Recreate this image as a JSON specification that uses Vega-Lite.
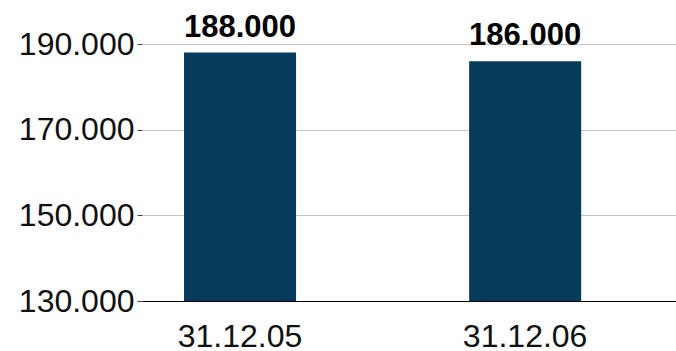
{
  "$schema": "https://vega.github.io/schema/vega-lite/v6.json",
  "autosize": {"type": "none"},
  "padding": {"left": 142, "top": 44, "right": 0, "bottom": 50},
  "width": 534,
  "height": 257,
  "background": "white",
  "config": {
    "locale": {"number": {"decimal": ",", "thousands": ".", "grouping": [3], "currency": ["", " €"]}},
    "view": {"stroke": null},
    "font": "Liberation Sans"
  },
  "data": {
    "values": [
      {"stichtag": "31.12.05", "wert": 188000},
      {"stichtag": "31.12.06", "wert": 186000}
    ]
  },
  "encoding": {
    "x": {
      "field": "stichtag",
      "type": "nominal",
      "sort": null,
      "scale": {"paddingInner": 0.607, "paddingOuter": 0.24, "align": 0.307},
      "axis": {
        "title": null,
        "labelAngle": 0,
        "labelFont": "Liberation Sans",
        "labelFontSize": 32,
        "labelColor": "#111111",
        "labelPadding": 20,
        "ticks": false,
        "domainColor": "#000000",
        "domainWidth": 1,
        "grid": false
      }
    },
    "y": {
      "field": "wert",
      "type": "quantitative",
      "scale": {"domain": [130000, 190000], "nice": false, "zero": false},
      "axis": {
        "title": null,
        "values": [130000, 150000, 170000, 190000],
        "format": ",d",
        "labelFont": "Liberation Sans",
        "labelFontSize": 32,
        "labelColor": "#111111",
        "labelPadding": 3,
        "domain": false,
        "ticks": true,
        "tickSize": 5,
        "tickColor": "#444444",
        "grid": true,
        "gridColor": "#c4c4c4",
        "gridWidth": 1
      }
    }
  },
  "layer": [
    {
      "mark": {"type": "bar", "color": "#063b5c"},
      "encoding": {"y2": {"datum": 130000}}
    },
    {
      "mark": {
        "type": "text",
        "baseline": "alphabetic",
        "dy": -16,
        "fontSize": 31,
        "fontWeight": "bold",
        "font": "Liberation Sans",
        "color": "#000000"
      },
      "encoding": {
        "text": {"field": "wert", "type": "quantitative", "format": ",d"}
      }
    }
  ]
}
